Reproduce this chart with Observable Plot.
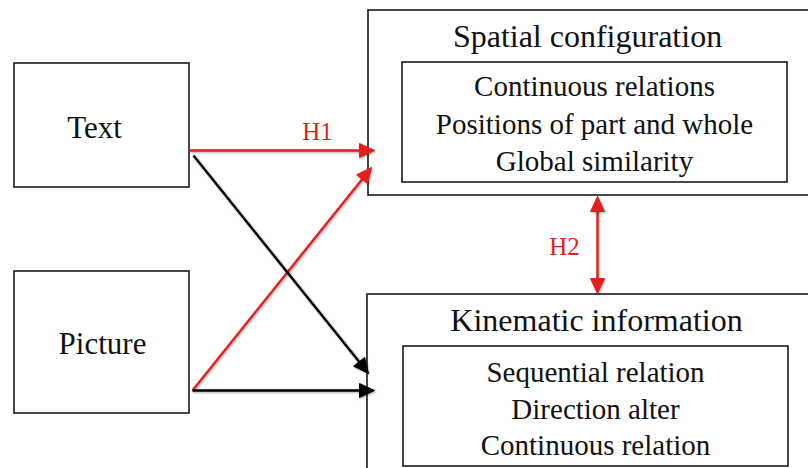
<!DOCTYPE html>
<html>
<head>
<meta charset="utf-8">
<script src="https://cdn.jsdelivr.net/npm/d3@7"></script>
<script src="https://cdn.jsdelivr.net/npm/@observablehq/plot@0.6"></script>
<style>
  html, body { margin: 0; padding: 0; background: #fff; }
</style>
</head>
<body>
<div id="chart"></div>
<script>
// ---- Diagram content ----
const sourceNames = ["Text", "Picture"];
const targetTitles = ["Spatial configuration", "Kinematic information"];
const spatialItems = ["Continuous relations", "Positions of part and whole", "Global similarity"];
const kinematicItems = ["Sequential relation", "Direction alter", "Continuous relation"];
const hypothesisLabels = ["H1", "H2"];

// ---- Layout (pixel coordinates on an 808 x 468 canvas) ----
const sourceBoxes = [
  {x1: 14, x2: 189, y1: 63, y2: 187},
  {x1: 14, x2: 189, y1: 271, y2: 413}
];
const sourceLabelPos = [{x: 94, y: 137}, {x: 102, y: 353}];
const outerBoxes = [
  {x1: 368, x2: 812, y1: 10, y2: 195},
  {x1: 367, x2: 812, y1: 294, y2: 474}
];
const innerBoxes = [
  {x1: 402, x2: 787, y1: 62, y2: 182},
  {x1: 403, x2: 788, y1: 346, y2: 466}
];
const titlePos = [{x: 587, y: 46}, {x: 596, y: 330}];
const itemBaselines = [[95, 133, 170], [381, 418, 454]];
const itemCenters = [594, 595];
const hypoPos = [{x: 317, y: 139}, {x: 564, y: 254}];

// arrows: from -> to, colour group, double-headed?
const arrows = [
  {x1: 189, y1: 150, x2: 374, y2: 150, color: "red", both: false},
  {x1: 192, y1: 390, x2: 371, y2: 167, color: "red", both: false},
  {x1: 193, y1: 155, x2: 368, y2: 373, color: "black", both: false},
  {x1: 192, y1: 390, x2: 374, y2: 390, color: "black", both: false},
  {x1: 597, y1: 196, x2: 597, y2: 293, color: "red", both: true}
];
const RED = "#e3211c", BLACK = "#000000";
const HEAD_L = 15, HEAD_W = 7;

// ---- Derived mark data ----
const sourceLabels = sourceNames.map((t, i) => ({text: t, ...sourceLabelPos[i]}));
const titles = targetTitles.map((t, i) => ({text: t, ...titlePos[i]}));
const items = [spatialItems, kinematicItems].flatMap((list, g) =>
  list.map((t, j) => ({text: t, x: itemCenters[g], y: itemBaselines[g][j]})));
const hypos = hypothesisLabels.map((t, i) => ({text: t, ...hypoPos[i]}));

const shafts = [], heads = [];
arrows.forEach((a, i) => {
  const dx = a.x2 - a.x1, dy = a.y2 - a.y1, len = Math.hypot(dx, dy);
  const ux = dx / len, uy = dy / len, px = -uy, py = ux;
  const head = (tx, ty, sx, sy, id) => {
    const bx = tx - sx * HEAD_L, by = ty - sy * HEAD_L;
    heads.push({id, color: a.color, x: tx, y: ty});
    heads.push({id, color: a.color, x: bx + px * HEAD_W, y: by + py * HEAD_W});
    heads.push({id, color: a.color, x: bx - px * HEAD_W, y: by - py * HEAD_W});
    heads.push({id, color: a.color, x: tx, y: ty});
  };
  head(a.x2, a.y2, ux, uy, i + "e");
  let sx1 = a.x1, sy1 = a.y1;
  if (a.both) { head(a.x1, a.y1, -ux, -uy, i + "s"); sx1 = a.x1 + ux * (HEAD_L - 2); sy1 = a.y1 + uy * (HEAD_L - 2); }
  shafts.push({color: a.color, x1: sx1, y1: sy1, x2: a.x2 - ux * (HEAD_L - 2), y2: a.y2 - uy * (HEAD_L - 2)});
});

const serif = "Times New Roman";
const shadow = "drop-shadow(1.5px 1.5px 1.2px rgba(0,0,0,0.35))";
const byColor = (arr, c) => arr.filter(d => d.color === c);
const label = f => d => d[f];

const chart = Plot.plot({
  width: 808,
  height: 468,
  margin: 0,
  x: {domain: [0, 808], axis: null},
  y: {domain: [0, 468], axis: null, reverse: true},
  marks: [
    Plot.rect(sourceBoxes, {x1: "x1", x2: "x2", y1: "y1", y2: "y2", fill: "none", stroke: "#1a1a1a", strokeWidth: 1.6}),
    Plot.rect(outerBoxes, {x1: "x1", x2: "x2", y1: "y1", y2: "y2", fill: "none", stroke: "#1a1a1a", strokeWidth: 1.6}),
    Plot.rect(innerBoxes, {x1: "x1", x2: "x2", y1: "y1", y2: "y2", fill: "none", stroke: "#1a1a1a", strokeWidth: 1.6}),
    Plot.link(byColor(shafts, "red"), {x1: "x1", y1: "y1", x2: "x2", y2: "y2", stroke: RED, strokeWidth: 2.4, imageFilter: shadow}),
    Plot.link(byColor(shafts, "black"), {x1: "x1", y1: "y1", x2: "x2", y2: "y2", stroke: BLACK, strokeWidth: 2.4, imageFilter: shadow}),
    Plot.line(byColor(heads, "red"), {x: "x", y: "y", z: "id", fill: RED, stroke: RED, strokeWidth: 1, imageFilter: shadow}),
    Plot.line(byColor(heads, "black"), {x: "x", y: "y", z: "id", fill: BLACK, stroke: BLACK, strokeWidth: 1, imageFilter: shadow}),
    Plot.text(sourceLabels, {x: "x", y: "y", text: label("text"), fontSize: 31, fontFamily: serif, lineAnchor: "bottom", fill: "#111"}),
    Plot.text(titles, {x: "x", y: "y", text: label("text"), fontSize: 32, fontFamily: serif, lineAnchor: "bottom", fill: "#111"}),
    Plot.text(items, {x: "x", y: "y", text: label("text"), fontSize: 29, fontFamily: serif, lineAnchor: "bottom", fill: "#111"}),
    Plot.text(hypos, {x: "x", y: "y", text: label("text"), fontSize: 25, fontFamily: serif, lineAnchor: "bottom", fill: RED})
  ]
});

document.getElementById("chart").appendChild(chart);
</script>
</body>
</html>
